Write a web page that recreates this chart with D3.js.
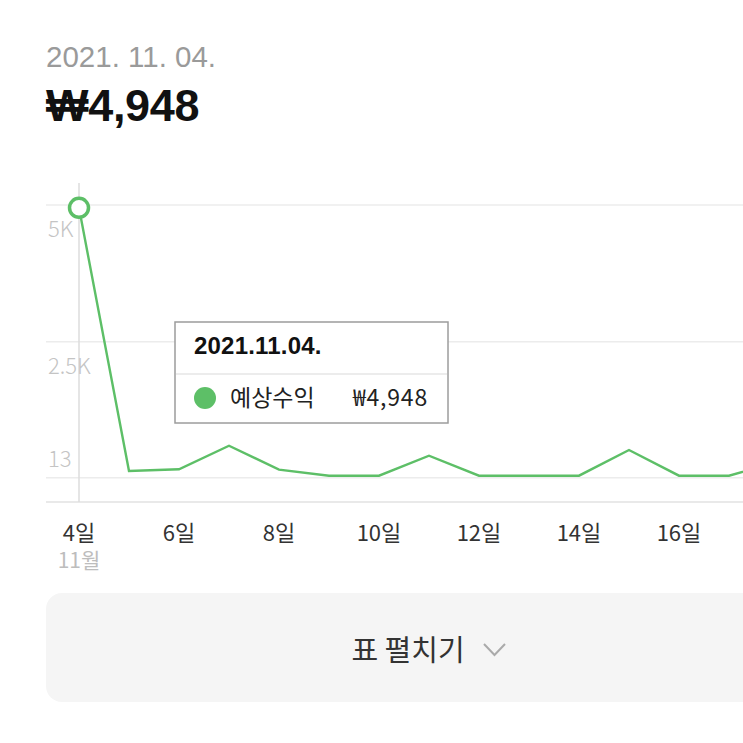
<!DOCTYPE html>
<html><head><meta charset="utf-8">
<script src="https://cdn.jsdelivr.net/npm/d3@7"></script>
<style>
html,body{margin:0;padding:0;background:#fff;}
svg{display:block;}
</style></head>
<body>
<script>
// ---- data ----
const days = [4,5,6,7,8,9,10,11,12,13,14,15,16,17,18];
const values = [4948,135,167,598,160,50,50,415,50,50,50,520,50,50,300];
const xTickValues = [4,6,8,10,12,14,16];
const xTickLabels = ["4일","6일","8일","10일","12일","14일","16일"];
const monthLabel = "11월";
const yTickValues = [13,2500,5000];
const yTickLabels = ["13","2.5K","5K"];
const headerDate = "2021. 11. 04.";
const headerValue = "₩4,948";
const tooltipDate = "2021.11.04.";
const seriesName = "예상수익";
const tooltipValue = "₩4,948";
const buttonLabel = "표 펼치기";

const W = 743, H = 743;
const green = "#5dbf67";
const latin = "'Liberation Sans','Noto Sans CJK KR',sans-serif";
const kr = "'Noto Sans CJK KR','Liberation Sans',sans-serif";

const svg = d3.select("body").append("svg").attr("width", W).attr("height", H);

// header
svg.append("text").attr("x", 46).attr("y", 67).text(headerDate)
  .attr("font-family", latin).attr("font-size", 29.5).attr("fill", "#9a9a9a");
svg.append("text").attr("x", 46).attr("y", 121).text(headerValue)
  .attr("font-family", latin).attr("font-weight", "bold").attr("font-size", 45).attr("fill", "#111")
  .attr("letter-spacing", -0.3);

// scales
const x = d3.scaleLinear().domain([4, 18]).range([79, 779]);
const y = d3.scaleLinear().domain([13, 5000]).range([477.7, 205]);

// gridlines
svg.append("g").selectAll("line").data(yTickValues).join("line")
  .attr("x1", 46).attr("x2", W).attr("y1", d => y(d)).attr("y2", d => y(d))
  .attr("stroke", "#ececec").attr("stroke-width", 1.5);

// axis line bottom
svg.append("line").attr("x1", 46).attr("x2", W).attr("y1", 502).attr("y2", 502)
  .attr("stroke", "#e2e2e2").attr("stroke-width", 1.5);
// vertical line at first point
svg.append("line").attr("x1", x(4)).attr("x2", x(4)).attr("y1", 183).attr("y2", 502)
  .attr("stroke", "#dddddd").attr("stroke-width", 1.5);

// y tick labels
svg.append("g").selectAll("text").data(yTickValues).join("text")
  .attr("x", 48)
  .attr("y", (d, i) => i === 0 ? y(d) - 11 : y(d) + 32)
  .text((d, i) => yTickLabels[i])
  .attr("font-family", kr).attr("font-weight", 300).attr("font-size", 22).attr("fill", "#c4c4c4");

// line
const pts = days.map((d, i) => [d, values[i]]);
svg.append("path").datum(pts)
  .attr("d", d3.line().x(d => x(d[0])).y(d => y(d[1])))
  .attr("fill", "none").attr("stroke", green).attr("stroke-width", 2.4)
  .attr("stroke-linejoin", "miter");

// highlighted point
svg.append("circle").attr("cx", x(days[0])).attr("cy", y(values[0])).attr("r", 9.5)
  .attr("fill", "#fff").attr("stroke", green).attr("stroke-width", 3.5);

// x tick labels
svg.append("g").selectAll("text").data(xTickValues).join("text")
  .attr("x", d => x(d)).attr("y", 541).attr("text-anchor", "middle")
  .text((d, i) => xTickLabels[i])
  .attr("font-family", kr).attr("font-size", 22).attr("fill", "#333");
svg.append("text").attr("x", x(4)).attr("y", 568).attr("text-anchor", "middle")
  .text(monthLabel).attr("font-family", kr).attr("font-size", 21).attr("fill", "#bdbdbd");

// tooltip
const tt = svg.append("g");
tt.append("rect").attr("x", 175).attr("y", 322).attr("width", 273).attr("height", 101)
  .attr("fill", "#fff").attr("stroke", "#9c9c9c").attr("stroke-width", 1.5);
tt.append("line").attr("x1", 176).attr("x2", 447).attr("y1", 374).attr("y2", 374)
  .attr("stroke", "#e6e6e6").attr("stroke-width", 1.5);
tt.append("text").attr("x", 194).attr("y", 354).text(tooltipDate)
  .attr("font-family", latin).attr("font-weight", "bold").attr("font-size", 24).attr("fill", "#111")
  .attr("letter-spacing", 0.2);
tt.append("circle").attr("cx", 205).attr("cy", 398).attr("r", 11).attr("fill", green);
tt.append("text").attr("x", 230).attr("y", 406).text(seriesName)
  .attr("font-family", kr).attr("font-size", 23).attr("fill", "#222");
tt.append("text").attr("x", 428).attr("y", 406).attr("text-anchor", "end").text(tooltipValue)
  .attr("font-family", kr).attr("font-size", 23).attr("fill", "#222").attr("letter-spacing", 0.8);

// button
svg.append("rect").attr("x", 46).attr("y", 593).attr("width", 740).attr("height", 109)
  .attr("rx", 16).attr("fill", "#f5f5f5");
svg.append("text").attr("x", 408).attr("y", 661).attr("text-anchor", "middle").text(buttonLabel)
  .attr("font-family", kr).attr("font-size", 29).attr("fill", "#333");
svg.append("path").attr("d", "M484,644 L494.5,655 L505,644")
  .attr("fill", "none").attr("stroke", "#aaa").attr("stroke-width", 2);
</script>
</body></html>
